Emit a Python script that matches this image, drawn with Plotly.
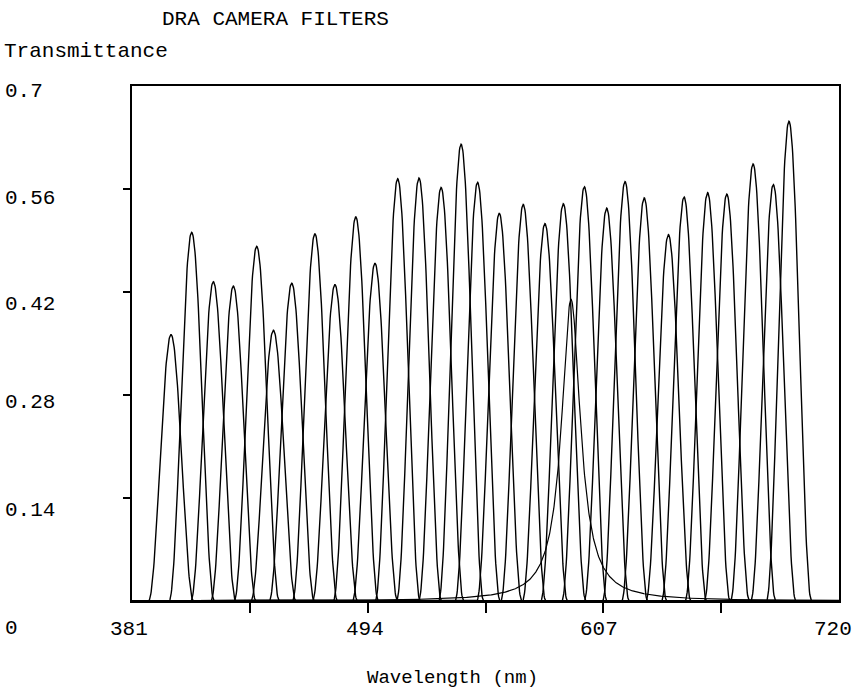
import numpy as np
import plotly.graph_objects as go

# ---- data ----
centers_nm = [399.7, 409.6, 420.0, 429.6, 440.8, 448.8, 457.6, 468.7, 478.3, 488.3,
              497.5, 508.4, 518.6, 529.2, 538.8, 546.7, 557.1, 568.6, 579.0, 587.8,
              597.9, 608.6, 617.4, 626.6, 638.2, 645.7, 657.0, 666.2, 678.8, 688.5, 696.0]
peaks = [0.362, 0.501, 0.434, 0.428, 0.482, 0.368, 0.432, 0.499, 0.430, 0.522,
         0.459, 0.574, 0.575, 0.562, 0.621, 0.569, 0.527, 0.539, 0.513, 0.540,
         0.563, 0.534, 0.570, 0.548, 0.498, 0.549, 0.555, 0.553, 0.594, 0.566, 0.652]
base_halfwidth_nm = 10.8   # distance from centre to where a narrow filter falls to 0
broad_center_nm = 591.5    # the single broad filter
broad_peak = 0.41
broad_gamma_nm = 5.5

x_ticks = [437.5, 494, 550.5, 607, 663.5]
x_labels = [381, 494, 607, 720]
y_ticks = [0.14, 0.28, 0.42, 0.56]
y_labels = ["0.7", "0.56", "0.42", "0.28", "0.14", "0"]

# ---- layout geometry (pixels) ----
W, H = 856, 691
L, R, T, B = 132, 839, 86, 601

def px(xp):
    return (xp - L) / (R - L)

def py(yp):
    return (B - yp) / (B - T)

FONT = "Liberation Mono"

wl = np.arange(381.0, 720.01, 0.2)
fig = go.Figure()
for c, p in zip(centers_nm, peaks):
    d = np.clip(np.abs(wl - c) / base_halfwidth_nm, 0, 1)
    y = p * np.cos(np.pi * d / 2) ** 2
    fig.add_trace(go.Scatter(x=wl, y=y, mode="lines",
                             line=dict(color="black", width=1.4),
                             hoverinfo="skip", showlegend=False))
yb = broad_peak / (1 + ((wl - broad_center_nm) / broad_gamma_nm) ** 2)
fig.add_trace(go.Scatter(x=wl, y=yb, mode="lines",
                         line=dict(color="black", width=1.2),
                         hoverinfo="skip", showlegend=False))

ann = []
def text(t, xp, yp, size=21, anchor="left"):
    ann.append(dict(text=t, x=px(xp), y=py(yp), xref="paper", yref="paper",
                    xanchor=anchor, yanchor="middle", showarrow=False,
                    font=dict(family=FONT, size=size, color="black")))

text("DRA CAMERA FILTERS", 160, 20)
text("Transmittance", 2, 51)
y_label_px = [91, 198, 304, 402, 510, 628]
for lab, yp in zip(y_labels, y_label_px):
    text(lab, 3, yp)
x_label_px = [129, 365, 599, 833]
for lab, xp in zip(x_labels, x_label_px):
    text(str(lab), xp, 630, anchor="center")
text("Wavelength (nm)", 452, 678, size=19, anchor="center")

fig.update_layout(
    width=W, height=H,
    margin=dict(l=L, r=W - R, t=T, b=H - B, pad=0),
    paper_bgcolor="white", plot_bgcolor="white",
    annotations=ann,
    xaxis=dict(range=[381, 720], showgrid=False, zeroline=False,
               showline=True, mirror=True, linecolor="black", linewidth=1.5,
               ticks="outside", tickvals=x_ticks, ticklen=10, tickwidth=1.5,
               tickcolor="black", showticklabels=False),
    yaxis=dict(range=[0, 0.7], showgrid=False, zeroline=False,
               showline=True, mirror=True, linecolor="black", linewidth=1.5,
               ticks="outside", tickvals=y_ticks, ticklen=7, tickwidth=1.5,
               tickcolor="black", showticklabels=False),
)

fig.write_html("out.html")
